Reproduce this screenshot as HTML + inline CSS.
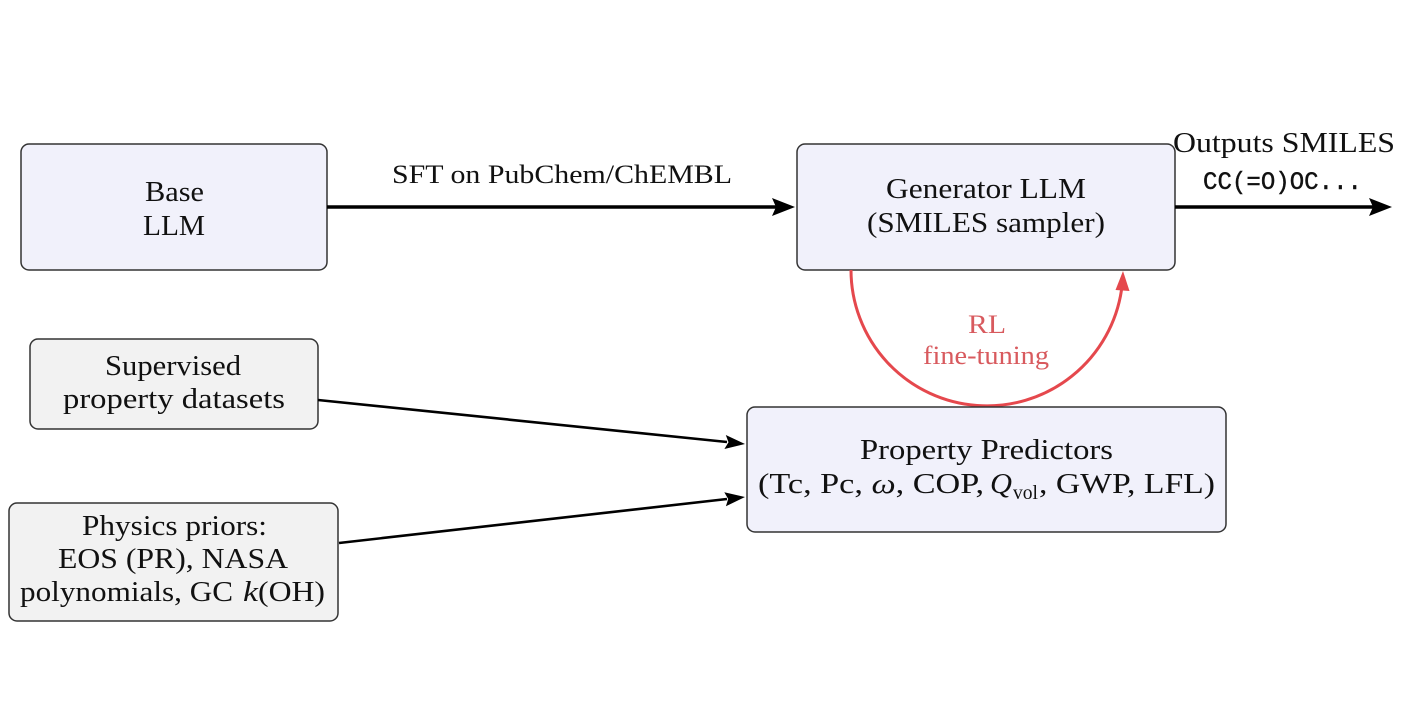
<!DOCTYPE html>
<html>
<head>
<meta charset="utf-8">
<style>
  html, body { margin: 0; padding: 0; background: #ffffff; }
  svg { display: block; }
  .t { font-family: "Liberation Serif", "DejaVu Serif", serif; fill: #111; }
  .m { font-family: "Liberation Mono", "DejaVu Sans Mono", monospace; fill: #111; }
  .r { font-family: "Liberation Serif", "DejaVu Serif", serif; fill: #d85a5e; }
</style>
</head>
<body>
<svg width="1404" height="727" viewBox="0 0 1404 727" xmlns="http://www.w3.org/2000/svg">
  <rect x="0" y="0" width="1404" height="727" fill="#ffffff"/>

  <!-- Base LLM box -->
  <rect x="21" y="144" width="306" height="126" rx="8" ry="8" fill="#f1f1fb" stroke="#333" stroke-width="1.5"/>
  <text class="t" x="145" y="201" font-size="29" textLength="59" lengthAdjust="spacingAndGlyphs">Base</text>
  <text class="t" x="143" y="235" font-size="29" textLength="62" lengthAdjust="spacingAndGlyphs">LLM</text>

  <!-- SFT arrow -->
  <line x1="327" y1="207" x2="776" y2="207" stroke="#000" stroke-width="3.5"/>
  <path d="M795,207 L772,198 L776,207 L772,216 Z" fill="#000"/>
  <text class="t" x="392" y="183" font-size="26" textLength="340" lengthAdjust="spacingAndGlyphs">SFT on PubChem/ChEMBL</text>

  <!-- Generator LLM box -->
  <rect x="797" y="144" width="378" height="126" rx="8" ry="8" fill="#f1f1fb" stroke="#333" stroke-width="1.5"/>
  <text class="t" x="886" y="198" font-size="29" textLength="200" lengthAdjust="spacingAndGlyphs">Generator LLM</text>
  <text class="t" x="867" y="232" font-size="29" textLength="238" lengthAdjust="spacingAndGlyphs">(SMILES sampler)</text>

  <!-- Output arrow -->
  <line x1="1175" y1="207" x2="1373" y2="207" stroke="#000" stroke-width="3.5"/>
  <path d="M1392,207 L1369,198 L1373,207 L1369,216 Z" fill="#000"/>
  <text class="t" x="1173" y="152" font-size="29" textLength="222" lengthAdjust="spacingAndGlyphs">Outputs SMILES</text>
  <text class="m" x="1203" y="189" font-size="25" textLength="159" lengthAdjust="spacingAndGlyphs" stroke="#111" stroke-width="0.4">CC(=O)OC...</text>

  <!-- RL arc -->
  <path d="M851,270 A136,136 0 0 0 1121.5,290" fill="none" stroke="#e5484d" stroke-width="3"/>
  <path d="M1123,271 L1129.5,291 L1115.5,290 Z" fill="#e5484d"/>
  <text class="r" x="968" y="333" font-size="26" textLength="38" lengthAdjust="spacingAndGlyphs">RL</text>
  <text class="r" x="923" y="364" font-size="26" textLength="126" lengthAdjust="spacingAndGlyphs">fine-tuning</text>

  <!-- Supervised property datasets -->
  <rect x="30" y="339" width="288" height="90" rx="8" ry="8" fill="#f2f2f2" stroke="#333" stroke-width="1.5"/>
  <text class="t" x="105" y="375" font-size="29" textLength="136" lengthAdjust="spacingAndGlyphs">Supervised</text>
  <text class="t" x="63" y="408" font-size="29" textLength="222" lengthAdjust="spacingAndGlyphs">property datasets</text>

  <!-- Physics priors -->
  <rect x="9" y="503" width="329" height="118" rx="8" ry="8" fill="#f2f2f2" stroke="#333" stroke-width="1.5"/>
  <text class="t" x="82" y="535" font-size="29" textLength="185" lengthAdjust="spacingAndGlyphs">Physics priors:</text>
  <text class="t" x="58" y="568" font-size="29" textLength="230" lengthAdjust="spacingAndGlyphs">EOS (PR), NASA</text>
  <text class="t" x="20" y="601" font-size="29" textLength="213" lengthAdjust="spacingAndGlyphs">polynomials, GC</text>
  <text class="t" x="243" y="601" font-size="29" font-style="italic" textLength="15" lengthAdjust="spacingAndGlyphs">k</text>
  <text class="t" x="258" y="601" font-size="29" textLength="67" lengthAdjust="spacingAndGlyphs">(OH)</text>

  <!-- Arrows to property predictors -->
  <line x1="318" y1="400" x2="727" y2="442" stroke="#000" stroke-width="2.6"/>
  <path d="M745,444 L725.8,435 L728.5,442.2 L724.4,449 Z" fill="#000"/>
  <line x1="339" y1="543" x2="727" y2="499" stroke="#000" stroke-width="2.6"/>
  <path d="M745,497 L724.3,492.3 L728.2,499 L725.9,506.2 Z" fill="#000"/>

  <!-- Property Predictors -->
  <rect x="747" y="407" width="479" height="125" rx="8" ry="8" fill="#f1f1fb" stroke="#333" stroke-width="1.5"/>
  <text class="t" x="860" y="459" font-size="29" textLength="253" lengthAdjust="spacingAndGlyphs">Property Predictors</text>
  <text class="t" x="758" y="493" font-size="29" textLength="226" lengthAdjust="spacingAndGlyphs">(Tc, Pc, <tspan font-style="italic">ω</tspan>, COP,</text>
  <text class="t" x="990" y="493" font-size="29" font-style="italic" textLength="22" lengthAdjust="spacingAndGlyphs">Q</text>
  <text class="t" x="1013" y="499" font-size="20" textLength="25" lengthAdjust="spacingAndGlyphs">vol</text>
  <text class="t" x="1039" y="493" font-size="29" textLength="176" lengthAdjust="spacingAndGlyphs">, GWP, LFL)</text>
</svg>
</body>
</html>
